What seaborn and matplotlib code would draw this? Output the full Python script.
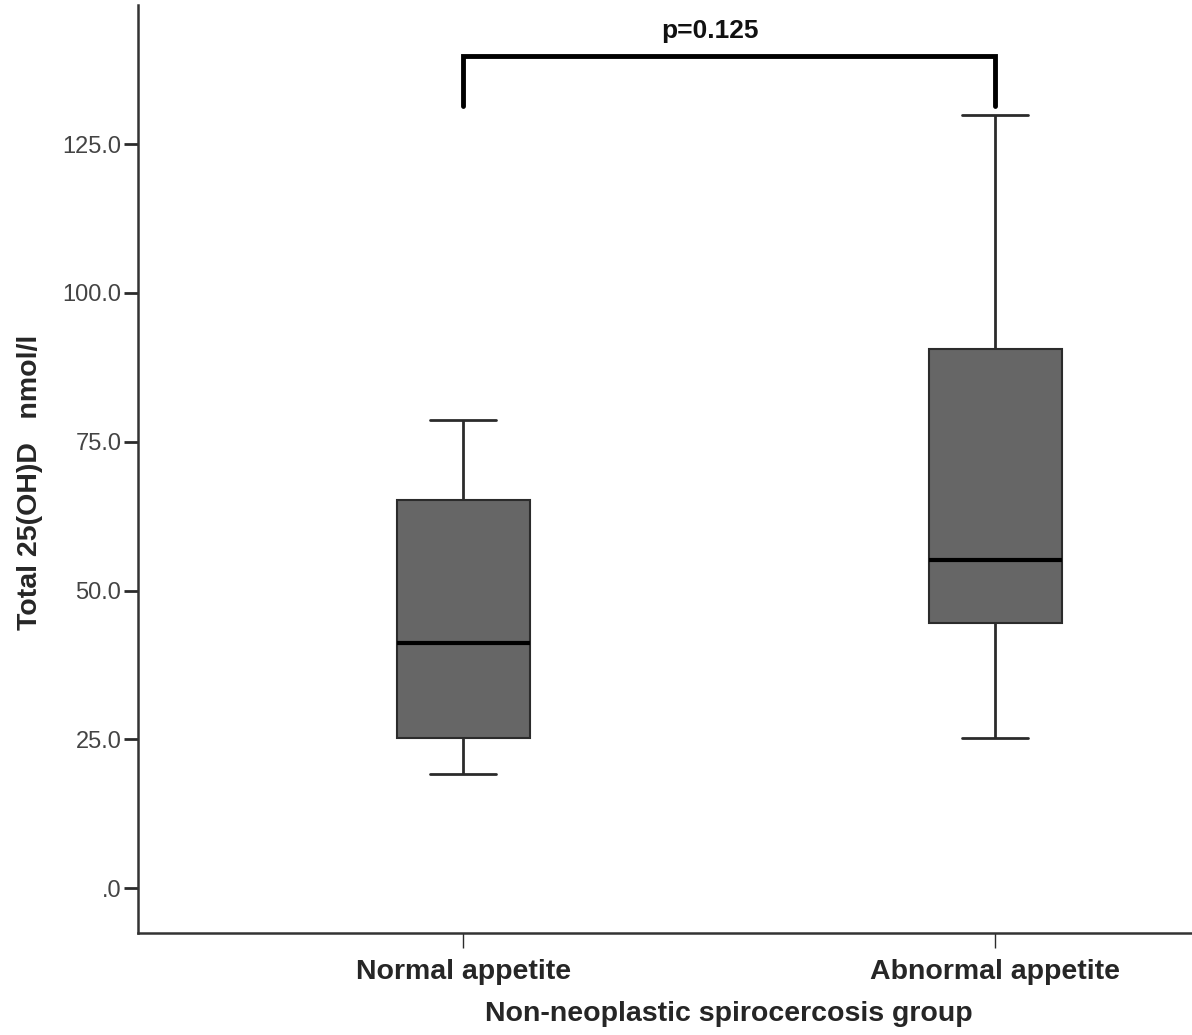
import matplotlib
matplotlib.use("Agg")
import matplotlib.pyplot as plt
import seaborn as sns
import pandas as pd

# ── Data (five-number summary per group) ──
categories = ["Normal appetite", "Abnormal appetite"]
normal_vals = [19.2, 25.2, 41.2, 65.2, 78.6]      # min, Q1, median, Q3, max
abnormal_vals = [25.2, 44.5, 55.1, 90.6, 129.9]
y_ticks = [0, 25, 50, 75, 100, 125]
y_tick_labels = [".0", "25.0", "50.0", "75.0", "100.0", "125.0"]
p_text = "p=0.125"

df = pd.DataFrame({
    "group": [categories[0]] * len(normal_vals) + [categories[1]] * len(abnormal_vals),
    "value": normal_vals + abnormal_vals,
})

# ── Style ────────────────────────────────────────────────
sns.set_style("ticks")
plt.rcParams["font.family"] = ["Liberation Sans", "DejaVu Sans"]

fig = plt.figure(figsize=(11.92, 10.35), dpi=100)
ax = fig.add_axes([0.1158, 1 - 933 / 1035, 1 - 0.1158, 928 / 1035])

sns.boxplot(
    data=df, x="group", y="value", order=categories, ax=ax,
    color="#666666", saturation=1, width=0.25, whis=3,
    showfliers=False, linecolor="#2b2b2b", linewidth=1.5,
    medianprops=dict(color="black", linewidth=3),
    whiskerprops=dict(color="#2b2b2b", linewidth=2),
    capprops=dict(color="#2b2b2b", linewidth=2),
)

ax.set_xlim(-0.611, 1.370)
ax.set_ylim(-7.56, 148.4)
ax.set_yticks(y_ticks)
ax.set_yticklabels(y_tick_labels)

sns.despine(ax=ax)
for side in ["left", "bottom"]:
    ax.spines[side].set_linewidth(1.8)
    ax.spines[side].set_color("#333333")

ax.tick_params(axis="y", length=10, width=2, color="#2b2b2b",
               labelsize=17, labelcolor="#444444", pad=2)
ax.tick_params(axis="x", length=11, width=1, color="#2b2b2b",
               labelsize=20.5, pad=8)
for lbl in ax.get_xticklabels():
    lbl.set_fontweight("bold")

ax.set_xlabel("Non-neoplastic spirocercosis group", fontsize=20.5, fontweight="bold")
ax.set_ylabel("Total 25(OH)D   nmol/l", fontsize=20.5, fontweight="bold")
ax.xaxis.set_label_coords(0.561, -0.073)
ax.yaxis.set_label_coords(-0.09, 0.486)

# ── Significance bracket ─────────────────────────────────
ax.plot([0, 0, 1, 1], [131.5, 139.9, 139.9, 131.5], color="black",
        linewidth=3.5, solid_joinstyle="miter", clip_on=False)
ax.text(0.464, 142.0, p_text, ha="center", va="bottom",
        fontsize=19, fontweight="bold", color="#111111")

plt.savefig("out.png", dpi=100)
